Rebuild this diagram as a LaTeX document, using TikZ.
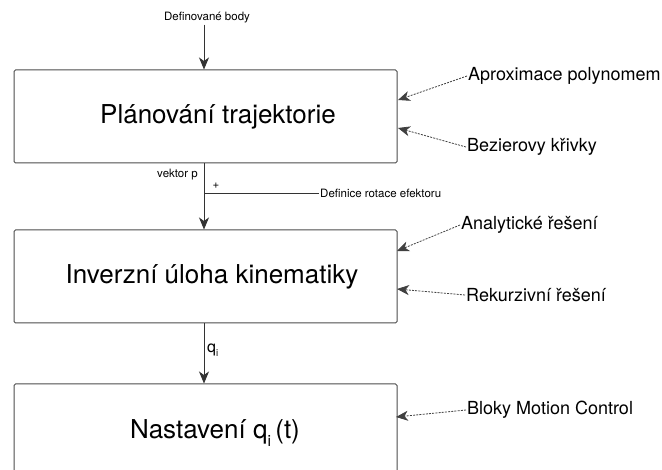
\documentclass[tikz,border=0pt]{standalone}
\usepackage{fontspec}
\setmainfont{TeX Gyre Heros}
\usetikzlibrary{arrows.meta}
\newcommand{\lowsub}[1]{\raisebox{-0.55ex}{\scalebox{0.6}{#1}}}
\begin{document}
\begin{tikzpicture}[x=1pt,y=-1pt,
  box/.style={draw=black!70, line width=1pt, rounded corners=1.5pt, minimum width=383pt, inner sep=0pt},
  big/.style={font=\fontsize{26}{30}\selectfont},
  small/.style={font=\fontsize{11.5}{13}\selectfont, inner sep=1pt},
  side/.style={font=\fontsize{18}{21}\selectfont, anchor=west, inner sep=1pt},
  flow/.style={draw=black!80, line width=0.9pt, -{Stealth[length=12pt,width=10pt,inset=3.5pt]}},
  hint/.style={draw=black!75, line width=0.8pt, dash pattern=on 2pt off 1.2pt, -{Stealth[length=12pt,width=10pt,inset=3.5pt]}}]
\useasboundingbox (0,0) rectangle (662,470);
\clip (0,0) rectangle (662,470);
% boxes
\node[box, minimum height=93pt] (b1) at (205.5,116.5) {};
\node[big] (t1) at (218,116.5) {Plánování trajektorie};
\node[box, minimum height=93pt] (b2) at (205.5,276.5) {};
\node[big] (t2) at (212,276.5) {Inverzní úloha kinematiky};
\node[box, minimum height=96pt] (b3) at (205.5,432) {};
\node[big] (t3) at (215,433) {Nastavení q\lowsub{i}\,(t)};
% top input
\node[small] (def) at (207,18) {Definované body};
\coordinate (b1top) at (204,69.5);
\draw[flow] (def.south -| b1top) -- (b1top);
% b1 -> b2
\coordinate (b1bot) at (204,163.5);
\coordinate (b2top) at (204,229.5);
\draw[flow] (b1bot) -- (b2top);
\node[small, anchor=east] (vp) at (199,175) {vektor p};
\node[small] (plus) at (216,186) {+};
\coordinate (junc) at (204,193);
\node[small, anchor=west] (rot) at (319,193) {Definice rotace efektoru};
\draw[draw=black!80, line width=0.9pt] (junc) -- (rot.west);
% b2 -> b3
\coordinate (b2bot) at (204,323.5);
\coordinate (b3top) at (204,383.5);
\draw[flow] (b2bot) -- (b3top);
\node[font=\fontsize{16}{18}\selectfont, anchor=west, inner sep=1pt] (qi) at (206,350) {q\lowsub{i}};
% side hints
\node[side] (ap) at (467,76) {Aproximace polynomem};
\node[side] (bz) at (466,147) {Bezierovy křivky};
\node[side] (an) at (460,225) {Analytické řešení};
\node[side] (rk) at (465,295) {Rekurzivní řešení};
\node[side] (mc) at (466,410) {Bloky Motion Control};
\coordinate (e1) at (398,100);
\coordinate (e2) at (398,128);
\coordinate (e3) at (397,251);
\coordinate (e4) at (397,289);
\coordinate (e5) at (396,417);
\draw[hint] (ap.west) -- (e1);
\draw[hint] (bz.west) -- (e2);
\draw[hint] (an.west) -- (e3);
\draw[hint] (rk.west) -- (e4);
\draw[hint] (mc.west) -- (e5);
\end{tikzpicture}
\end{document}
